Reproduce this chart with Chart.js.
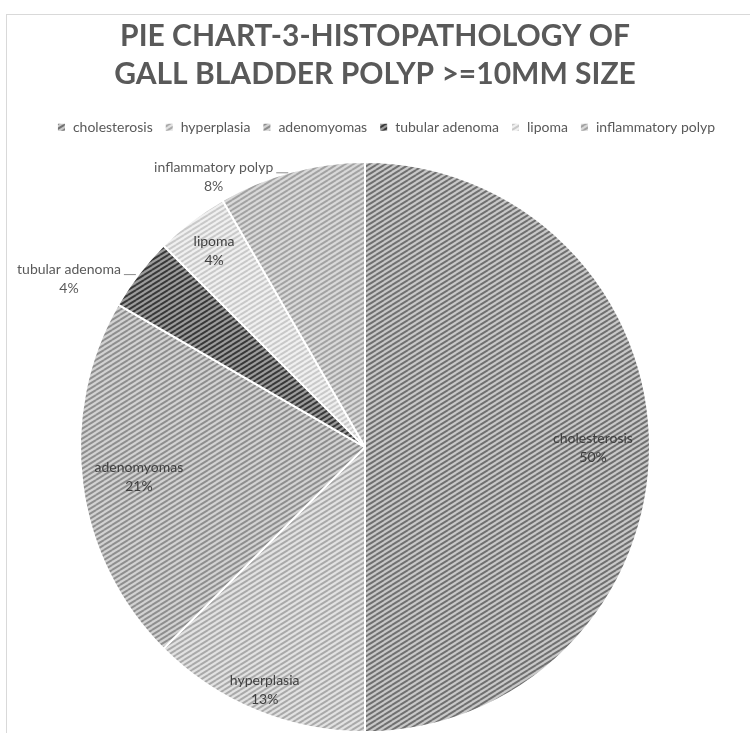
<!DOCTYPE html>
<html>
<head>
<meta charset="utf-8">
<script src="https://cdn.jsdelivr.net/npm/chart.js@4/dist/chart.umd.min.js"></script>
<style>
    html, body { margin: 0; padding: 0; background: #fff; overflow: hidden; }
    #wrap { position: relative; width: 750px; height: 752px; }
    #frame { position: absolute; left: 6px; top: 14px; right: 0; bottom: 0; border-top: 1px solid #d9d9d9; border-left: 1px solid #d9d9d9; pointer-events: none; }
</style>
</head>
<body>
<div id="wrap">
    <div id="frame"></div>
    <canvas id="polipos"></canvas>
</div>
<script>
const categorias = ["cholesterosis", "hyperplasia", "adenomyomas", "tubular adenoma", "lipoma", "inflammatory polyp"];
const casos = [12, 3, 5, 1, 1, 2];
const fondos = ["#c9c9c9", "#e2e2e2", "#d2d2d2", "#9c9c9c", "#f0f0f0", "#d9d9d9"];
const rayas = ["#707070", "#a9a9a9", "#8e8e8e", "#383838", "#c9c9c9", "#a2a2a2"];
const fuera = [false, false, false, true, false, true];
const radioEtiqueta = [0.8, 0.92, 0.8, 1, 0.87, 1];

function trama(fondo, raya) {
    const w = 8, h = 5;
    const c = document.createElement("canvas");
    c.width = w;
    c.height = h;
    const g = c.getContext("2d");
    g.fillStyle = fondo;
    g.fillRect(0, 0, w, h);
    g.strokeStyle = raya;
    g.lineWidth = 2;
    [[0, 0], [-w, 0], [w, 0], [0, -h], [0, h]].forEach(function (d) {
        g.beginPath();
        g.moveTo(d[0], h + d[1]);
        g.lineTo(w + d[0], d[1]);
        g.stroke();
    });
    return g.createPattern(c, "repeat");
}

const total = casos.reduce((a, b) => a + b, 0);

// el título y la leyenda van un poco a la derecha del centro del pie
const corrimiento = {
    id: "corrimiento",
    afterLayout(chart) {
        chart.titleBlock.left += 10;
        chart.titleBlock.right += 10;
        chart.legend.left += 21;
        chart.legend.right += 21;
    },
};

const etiquetas = {
    id: "etiquetas",
    afterDatasetsDraw(chart) {
        const ctx = chart.ctx;
        const arcos = chart.getDatasetMeta(0).data;
        ctx.save();
        ctx.font = "14px Lato";
        ctx.textBaseline = "middle";
        arcos.forEach(function (arco, i) {
            const p = arco.getProps(["x", "y", "startAngle", "endAngle", "outerRadius"], true);
            const medio = (p.startAngle + p.endAngle) / 2;
            const pct = Math.round((casos[i] / total) * 100) + "%";
            if (fuera[i]) {
                const ex = p.x + Math.cos(medio) * p.outerRadius;
                const ey = p.y + Math.sin(medio) * p.outerRadius;
                ctx.strokeStyle = "#8c8c8c";
                ctx.lineWidth = 1;
                ctx.beginPath();
                ctx.moveTo(ex - 3, ey + 1);
                ctx.lineTo(ex - 15, ey + 1);
                ctx.stroke();
                const ancho = ctx.measureText(categorias[i]).width;
                const cx = ex - 18 - ancho / 2;
                ctx.fillStyle = "#595959";
                ctx.textAlign = "center";
                ctx.fillText(categorias[i], cx, ey - 4);
                ctx.fillText(pct, cx, ey + 15);
            } else {
                const r = p.outerRadius * radioEtiqueta[i];
                const cx = p.x + Math.cos(medio) * r;
                const cy = p.y + Math.sin(medio) * r;
                ctx.fillStyle = "#404040";
                ctx.textAlign = "center";
                ctx.fillText(categorias[i], cx, cy - 9);
                ctx.fillText(pct, cx, cy + 10);
            }
        });
        ctx.restore();
    },
};

new Chart(document.getElementById("polipos"), {
    type: "pie",
    data: {
        labels: categorias,
        datasets: [
            {
                data: casos,
                backgroundColor: fondos.map((f, i) => trama(f, rayas[i])),
                borderColor: "#ffffff",
                borderWidth: 2,
                radius: 285,
            },
        ],
    },
    options: {
        responsive: true,
        maintainAspectRatio: false,
        animation: false,
        layout: { padding: { left: 0, right: 20, top: 0, bottom: 2 } },
        plugins: {
            title: {
                display: true,
                text: ["PIE CHART-3-HISTOPATHOLOGY OF", "GALL BLADDER POLYP >=10MM SIZE"],
                color: "#595959",
                font: { family: "Lato", size: 30, weight: "bold", lineHeight: 1.27 },
                padding: { top: 17, bottom: 15 },
            },
            legend: {
                position: "top",
                labels: {
                    color: "#595959",
                    font: { family: "Lato", size: 14 },
                    boxWidth: 9,
                    boxHeight: 9,
                    padding: 12,
                },
            },
            tooltip: { enabled: false },
        },
    },
    plugins: [corrimiento, etiquetas],
});
</script>
</body>
</html>
